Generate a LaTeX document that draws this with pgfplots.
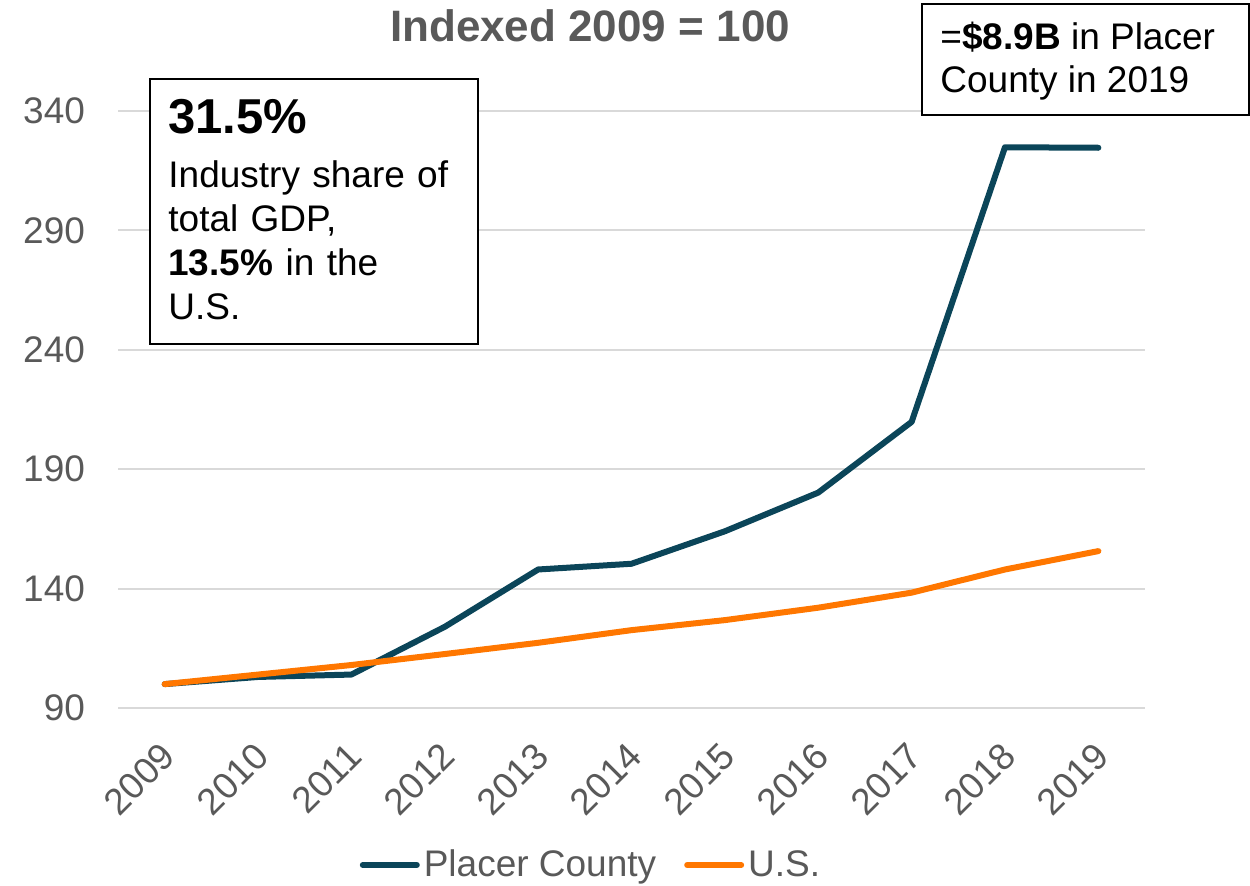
\documentclass[border=0pt]{standalone}
\usepackage{pgfplots}
\pgfplotsset{compat=1.18}
\usepackage{fontspec}
\setmainfont{Liberation Sans}
\definecolor{placer}{HTML}{0B4559}
\definecolor{usorange}{HTML}{FF7700}
\definecolor{txtgray}{HTML}{595959}
\definecolor{gridgray}{HTML}{D9D9D9}
\begin{document}
\begin{tikzpicture}
\begin{axis}[
    scale only axis,
    width=513.5pt,
    height=298.5pt,
    xmin=-0.5, xmax=10.5,
    ymin=90, ymax=340,
    ytick={90,140,190,240,290,340},
    xtick={0,...,10},
    xticklabels={2009,2010,2011,2012,2013,2014,2015,2016,2017,2018,2019},
    axis line style={draw=none},
    major tick length=0pt,
    ymajorgrids=true,
    grid style={gridgray, line width=1pt},
    font=\fontsize{18.5pt}{22pt}\selectfont,
    tick label style={txtgray, font=\fontsize{18.5pt}{22pt}\selectfont},
    yticklabel style={xshift=-13pt},
    xticklabel style={rotate=45, anchor=north east, xshift=-10pt, yshift=-6pt},
    /pgf/number format/assume math mode=true,
    clip=false,
    legend style={at={(rel axis cs:0.4615,-0.263)}, anchor=center, draw=none,
        legend columns=-1, text=txtgray,
        font=\fontsize{18.5pt}{22pt}\selectfont,
        /tikz/every even column/.append style={column sep=12pt}},
    legend image code/.code={\draw[#1] (0pt,0pt) -- (27pt,0pt);},
]
\addplot[placer, line width=3pt, line cap=round, line join=round] coordinates {
    (0,100) (1,103) (2,104) (3,124) (4,148) (5,150.4) (6,164) (7,180.2) (8,209.8) (9,324.8) (10,324.6)
};
\addplot[usorange, line width=3pt, line cap=round, line join=round] coordinates {
    (0,100) (1,104) (2,108) (3,112.6) (4,117.3) (5,122.6) (6,126.8) (7,132) (8,138.3) (9,148) (10,155.7)
};
\legend{Placer County, U.S.}
\node[txtgray, font=\fontsize{22pt}{26pt}\selectfont\bfseries] at (rel axis cs:0.4596,1.142) {Indexed 2009 = 100};
\node[draw=black, line width=0.8pt, fill=white, anchor=north west,
      minimum width=164pt, minimum height=132.5pt, inner sep=0pt]
      at (rel axis cs:0.0302,1.0553) {};
\node[anchor=north west, align=left, text width=150pt, inner sep=0pt,
      font=\fontsize{18.5pt}{22pt}\selectfont]
      at (rel axis cs:0.0487,1.020)
      {{\fontsize{24.5pt}{29pt}\selectfont\bfseries 31.5\%}\\[5pt]
       Industry share of\\ total GDP,\\ \textbf{13.5\%} in the\\ U.S.};
\node[draw=black, line width=0.8pt, fill=white, anchor=north west,
      minimum width=163.5pt, minimum height=55.5pt, inner sep=0pt]
      at (rel axis cs:0.7819,1.1809) {};
\node[anchor=north west, align=left, inner sep=0pt,
      font=\fontsize{18.5pt}{21.5pt}\selectfont]
      at (rel axis cs:0.8004,1.150)
      {=\textbf{\$8.9B} in Placer\\ County in 2019};
\coordinate (bl) at (rel axis cs:-0.1149,-0.2965);
\coordinate (tr) at (rel axis cs:1.1022,1.1859);
\end{axis}
\pgfresetboundingbox
\path[use as bounding box] (bl) rectangle (tr);
\end{tikzpicture}
\end{document}
